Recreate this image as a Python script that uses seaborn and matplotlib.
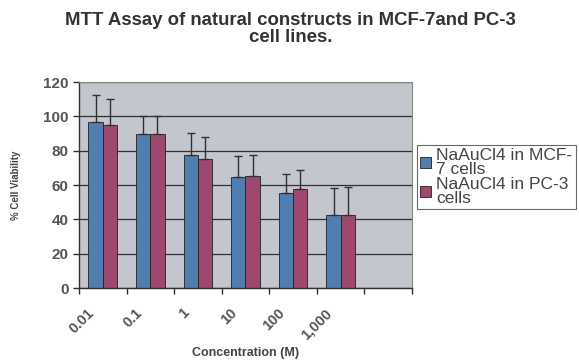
import pandas as pd
import matplotlib
matplotlib.use('Agg')
import matplotlib.pyplot as plt
import seaborn as sns

# data
concentrations = ['0.01', '0.1', '1', '10', '100', '1,000']
mcf7_viability = [97, 90, 77.5, 64.5, 55.5, 42.5]
mcf7_err = [15.5, 10, 13, 12.5, 11, 16]
pc3_viability = [95, 90, 75, 65, 57.5, 42.5]
pc3_err = [15, 10, 13, 12.5, 11.5, 16.5]
series = ['NaAuCl4 in MCF-\n7 cells', 'NaAuCl4 in PC-3\ncells']

df = pd.DataFrame({
    'Concentration': concentrations * 2,
    'Viability': mcf7_viability + pc3_viability,
    'Err': mcf7_err + pc3_err,
    'Series': [series[0]] * 6 + [series[1]] * 6,
})

sns.set_style('white')
plt.rcParams['font.family'] = ['Liberation Sans', 'DejaVu Sans']

fig = plt.figure(figsize=(5.79, 3.62), dpi=100)
ax = fig.add_axes([0.1364, 0.2044, 0.5752, 0.569])

# Excel-style: an extra empty category at the end
order = concentrations + ['']
sns.barplot(data=df, x='Concentration', y='Viability', hue='Series', order=order,
            hue_order=series, palette=['#3F7DC1', '#AD3A6E'], width=0.6,
            errorbar=None, edgecolor='#202020', linewidth=0.6, ax=ax)

# upward-only error bars
for cont, errs in zip(ax.containers, [mcf7_err, pc3_err]):
    for patch, e in zip(cont.patches, errs):
        xc = patch.get_x() + patch.get_width() / 2
        ax.errorbar(xc, patch.get_height(), yerr=[[0], [e]], fmt='none',
                    ecolor='#303030', elinewidth=1.0, capsize=3, capthick=1.0, zorder=3)

ax.set_facecolor('#C4C6CE')
ax.set_ylim(0, 120)
ax.set_xlim(-0.5, 6.5)
ax.set_yticks(range(0, 121, 20))
ax.yaxis.grid(True, color='#303030', linewidth=0.9)
ax.set_axisbelow(True)
for s in ['top', 'right']:
    ax.spines[s].set_color('#888888')
    ax.spines[s].set_linewidth(0.8)
for s in ['left', 'bottom']:
    ax.spines[s].set_color('#303030')
    ax.spines[s].set_linewidth(1.0)

# labels near category centres (nudged left like Excel's rotated labels), ticks at boundaries
ax.set_xticks([i - 0.33 for i in range(7)])
ax.set_xticklabels(order, rotation=45, ha='right', rotation_mode='anchor',
                   fontsize=10.5, fontweight='bold', color='#555555')
ax.tick_params(axis='x', which='major', length=0, pad=13)
ax.set_xticks([i - 0.5 for i in range(8)], minor=True)
ax.tick_params(axis='x', which='minor', length=4, width=1, color='#303030', direction='out')
ax.tick_params(axis='y', length=4, width=1, color='#303030', direction='out', labelsize=11,
               labelcolor='#555555')
for t in ax.get_yticklabels():
    t.set_fontweight('bold')
ax.tick_params(bottom=True, left=True, which='both')

ax.set_xlabel('Concentration (M)', fontsize=9, fontweight='bold', color='#444444')
ax.xaxis.set_label_coords(0.5, -0.285)
ax.set_ylabel('% Cell Viability', fontsize=7, fontweight='bold', color='#444444', labelpad=16)

fig.text(0.502, 0.92, 'MTT Assay of natural constructs in MCF-7and PC-3\ncell lines.',
         ha='center', va='center', fontsize=13.4, fontweight='bold', color='#333333',
         linespacing=1.0)

leg = ax.legend(loc='upper left', bbox_to_anchor=(1.015, 0.695), fontsize=12.5,
                frameon=True, fancybox=False, edgecolor='#444444', handlelength=0.6,
                handleheight=0.6, handletextpad=0.3, labelspacing=0.05,
                borderpad=0.2, borderaxespad=0)
leg.get_frame().set_linewidth(0.8)
for t in leg.get_texts():
    t.set_color('#444444')
    t.set_linespacing(0.85)

fig.savefig('out.png', dpi=100)
